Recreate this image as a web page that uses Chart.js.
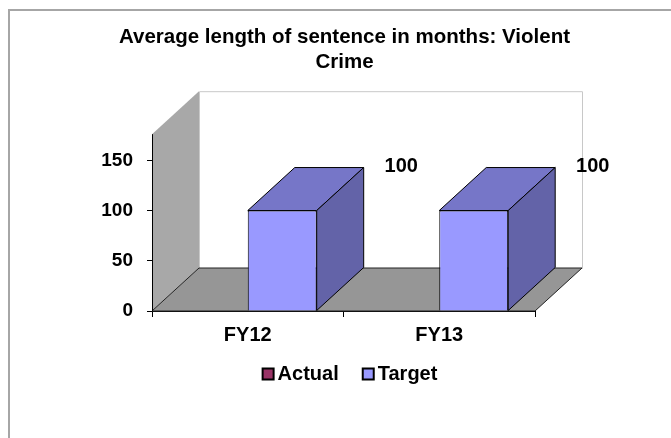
<!DOCTYPE html>
<html>
<head>
<meta charset="utf-8">
<script src="https://cdn.jsdelivr.net/npm/chart.js@4/dist/chart.umd.min.js"></script>
<style>
  html, body { margin: 0; padding: 0; background: #fff; }
  #wrap { width: 671px; height: 438px; position: relative; }
</style>
</head>
<body>
<div id="wrap"><canvas id="chart"></canvas></div>
<script>
// chart data
const categories = ['FY12', 'FY13'];
const seriesNames = ['Actual', 'Target'];
const actualValues = [null, null];
const targetValues = [100, 100];
const yTicks = [0, 50, 100, 150];
const titleLines = ['Average length of sentence in months: Violent', 'Crime'];

// 3d look
const DX = 47;
const DY = -43;
const FONT = "'Liberation Sans', Arial, sans-serif";
const faceColors = [
  { front: '#993366', top: '#7a2952', side: '#662244' },
  { front: '#9999FF', top: '#7676C8', side: '#6363A8' }
];

function poly(ctx, pts) {
  ctx.beginPath();
  ctx.moveTo(pts[0][0], pts[0][1]);
  for (let i = 1; i < pts.length; i++) ctx.lineTo(pts[i][0], pts[i][1]);
  ctx.closePath();
}

const depthPlugin = {
  id: 'depth3d',
  beforeDraw(chart) {
    const ctx = chart.ctx;
    ctx.save();
    ctx.fillStyle = '#fff';
    ctx.fillRect(0, 0, chart.width, chart.height);
    // outer frame (only left/top visible in the crop)
    ctx.strokeStyle = '#a6a6a6';
    ctx.lineWidth = 2;
    ctx.beginPath();
    ctx.moveTo(9, chart.height);
    ctx.lineTo(9, 10);
    ctx.lineTo(chart.width, 10);
    ctx.stroke();
    ctx.restore();
  },
  beforeDatasetsDraw(chart) {
    const { ctx, chartArea: a } = chart;
    ctx.save();
    ctx.lineWidth = 1;
    // back wall
    ctx.fillStyle = '#fff';
    ctx.strokeStyle = '#c8c8c8';
    ctx.beginPath();
    ctx.rect(a.left + DX + 0.5, a.top + DY + 0.5, a.right - a.left, a.bottom - a.top);
    ctx.fill();
    ctx.stroke();
    // side wall
    ctx.fillStyle = '#a8a8a8';
    poly(ctx, [[a.left, a.top], [a.left + DX, a.top + DY], [a.left + DX, a.bottom + DY], [a.left, a.bottom]]);
    ctx.fill();
    // floor
    ctx.fillStyle = '#969696';
    ctx.strokeStyle = '#222';
    poly(ctx, [[a.left, a.bottom], [a.right, a.bottom], [a.right + DX, a.bottom + DY], [a.left + DX, a.bottom + DY]]);
    ctx.fill();
    ctx.stroke();
    ctx.restore();
  },
  afterDatasetsDraw(chart) {
    const { ctx, chartArea: a } = chart;
    ctx.save();
    ctx.lineWidth = 1;
    ctx.strokeStyle = '#000';
    chart.data.datasets.forEach((ds, i) => {
      const meta = chart.getDatasetMeta(i);
      if (meta.hidden) return;
      meta.data.forEach((bar, j) => {
        if (ds.data[j] === null || ds.data[j] === undefined) return;
        const { x, y, base, width } = bar.getProps(['x', 'y', 'base', 'width'], true);
        const l = x - width / 2;
        const r = x + width / 2;
        // top face
        ctx.fillStyle = faceColors[i].top;
        poly(ctx, [[l, y], [r, y], [r + DX, y + DY], [l + DX, y + DY]]);
        ctx.fill();
        ctx.stroke();
        // right face
        ctx.fillStyle = faceColors[i].side;
        poly(ctx, [[r, y], [r + DX, y + DY], [r + DX, base + DY], [r, base]]);
        ctx.fill();
        ctx.stroke();
        // value label
        ctx.fillStyle = '#000';
        ctx.font = 'bold 20px ' + FONT;
        ctx.textAlign = 'center';
        ctx.textBaseline = 'middle';
        ctx.fillText(String(ds.data[j]), x + 119, y - 44);
      });
    });
    // value axis line on top of the side wall
    ctx.beginPath();
    ctx.moveTo(a.left + 0.5, a.top);
    ctx.lineTo(a.left + 0.5, a.bottom);
    ctx.stroke();
    ctx.restore();
  },
  afterDraw(chart) {
    // legend
    const ctx = chart.ctx;
    ctx.save();
    ctx.font = 'bold 20px ' + FONT;
    ctx.textBaseline = 'middle';
    ctx.textAlign = 'left';
    const box = 11, gapText = 4, gapItem = 24;
    const items = chart.data.datasets.map((ds, i) => ({ label: ds.label, color: faceColors[i].front, w: ctx.measureText(ds.label).width }));
    let total = 0;
    items.forEach((it, k) => { total += box + gapText + it.w + (k ? gapItem : 0); });
    let x = 350 - total / 2;
    const cy = 374;
    items.forEach(it => {
      ctx.fillStyle = it.color;
      ctx.fillRect(x, cy - box / 2, box, box);
      ctx.strokeStyle = '#000';
      ctx.lineWidth = 2;
      ctx.strokeRect(x, cy - box / 2, box, box);
      ctx.fillStyle = '#000';
      ctx.fillText(it.label, x + box + gapText, cy);
      x += box + gapText + it.w + gapItem;
    });
    ctx.restore();
  }
};

new Chart(document.getElementById('chart'), {
  type: 'bar',
  data: {
    labels: categories,
    datasets: [
      { label: seriesNames[0], data: actualValues, backgroundColor: faceColors[0].front, borderColor: '#000', borderWidth: 1 },
      { label: seriesNames[1], data: targetValues, backgroundColor: faceColors[1].front, borderColor: '#000', borderWidth: 1 }
    ]
  },
  options: {
    responsive: true,
    maintainAspectRatio: false,
    animation: false,
    layout: { padding: { left: 18, right: 0, top: 0, bottom: 0 } },
    datasets: { bar: { categoryPercentage: 0.72, barPercentage: 1.0 } },
    plugins: {
      legend: { display: false },
      tooltip: { enabled: false },
      title: {
        display: true,
        text: titleLines,
        color: '#000',
        font: { family: FONT, size: 20.5, weight: 'bold', lineHeight: 1.2 },
        padding: { top: 25, bottom: 60 }
      }
    },
    scales: {
      x: {
        grid: { offset: true, drawOnChartArea: false, tickLength: 6, color: '#000' },
        border: { display: true, color: '#000' },
        ticks: { color: '#000', font: { family: FONT, size: 20, weight: 'bold' }, padding: 6 },
        afterFit: s => { s.height = 127; }
      },
      y: {
        min: 0,
        max: 176,
        afterBuildTicks: s => { s.ticks = yTicks.map(v => ({ value: v })); },
        grid: { drawOnChartArea: false, tickLength: 5, color: '#000' },
        border: { display: true, color: '#000' },
        ticks: { color: '#000', font: { family: FONT, size: 19, weight: 'bold' }, padding: 14 },
        afterFit: s => { s.width = 134; }
      },
      y2: {
        type: 'linear',
        position: 'right',
        grid: { display: false },
        border: { display: false },
        ticks: { display: false },
        afterFit: s => { s.width = 136; }
      }
    }
  },
  plugins: [depthPlugin]
});
</script>
</body>
</html>
